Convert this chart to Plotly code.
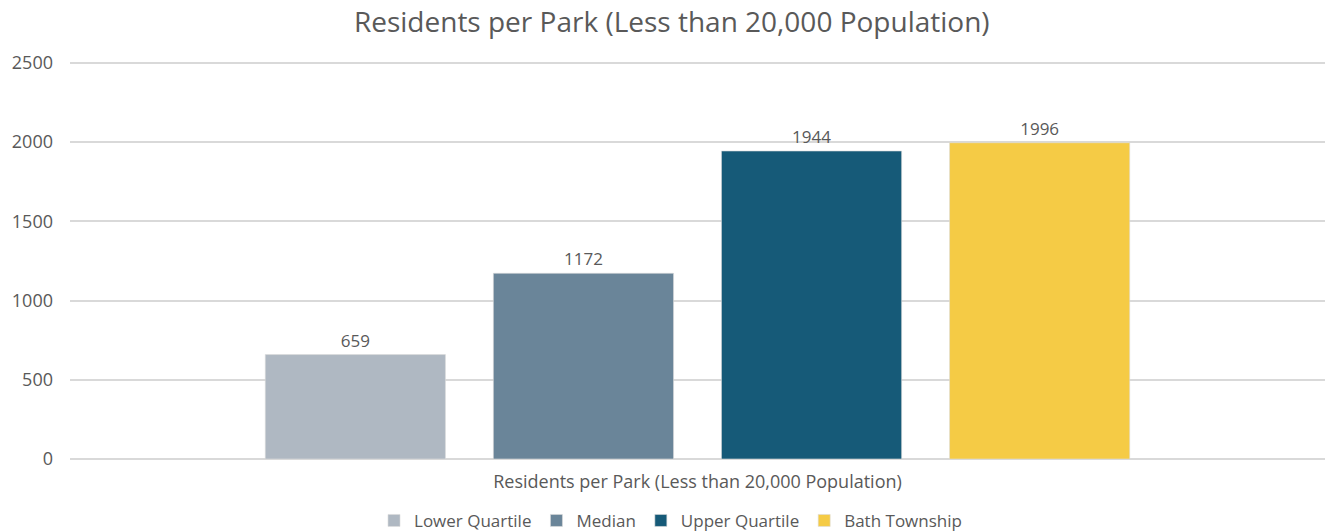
import plotly.graph_objects as go

category = ["Residents per Park (Less than 20,000 Population)"]
series_names = ["Lower Quartile", "Median", "Upper Quartile", "Bath Township"]
series_values = [659, 1172, 1944, 1996]
series_colors = ["#AFB8C2", "#6A8599", "#165A78", "#F5CB45"]
y_ticks = [0, 500, 1000, 1500, 2000, 2500]

fig = go.Figure()
for name, val, col in zip(series_names, series_values, series_colors):
    fig.add_trace(go.Bar(
        x=category, y=[val], name=name,
        marker=dict(color=col, line=dict(width=1, color="rgba(220,220,220,0.6)")),
        text=[str(val)], textposition="outside", cliponaxis=False,
        textfont=dict(size=17, color="#595959", family="Open Sans"),
    ))

fig.update_layout(
    width=1325, height=531,
    margin=dict(l=70, r=0, t=61, b=72, autoexpand=False),
    paper_bgcolor="white", plot_bgcolor="white",
    barmode="group", bargap=0.273, bargroupgap=0.21,
    font=dict(family="Open Sans", color="#595959", size=15),
    title=dict(text="Residents per Park (Less than 20,000 Population)",
               x=0.507, xanchor="center", y=0.958, yanchor="middle",
               font=dict(size=28, color="#595959", family="Open Sans")),
    legend=dict(orientation="h", x=0.4785, xanchor="center",
                yref="container", y=0.019, yanchor="middle",
                font=dict(size=17, color="#595959"), itemwidth=30, traceorder="normal"),
    yaxis=dict(range=[0, 2512], tickvals=y_ticks, showgrid=True, gridcolor="#D9D9D9",
               gridwidth=2, zeroline=True, zerolinecolor="#D9D9D9", zerolinewidth=2,
               tickfont=dict(size=18, color="#595959"), ticks="", ticklabelstandoff=16),
    xaxis=dict(showline=False, tickfont=dict(size=18, color="#595959"), ticks="",
               ticklabelstandoff=10),
)

fig.write_html(
    "out.html",
    post_script="document.body.style.overflow='hidden';"
                "document.documentElement.style.overflow='hidden';",
)
